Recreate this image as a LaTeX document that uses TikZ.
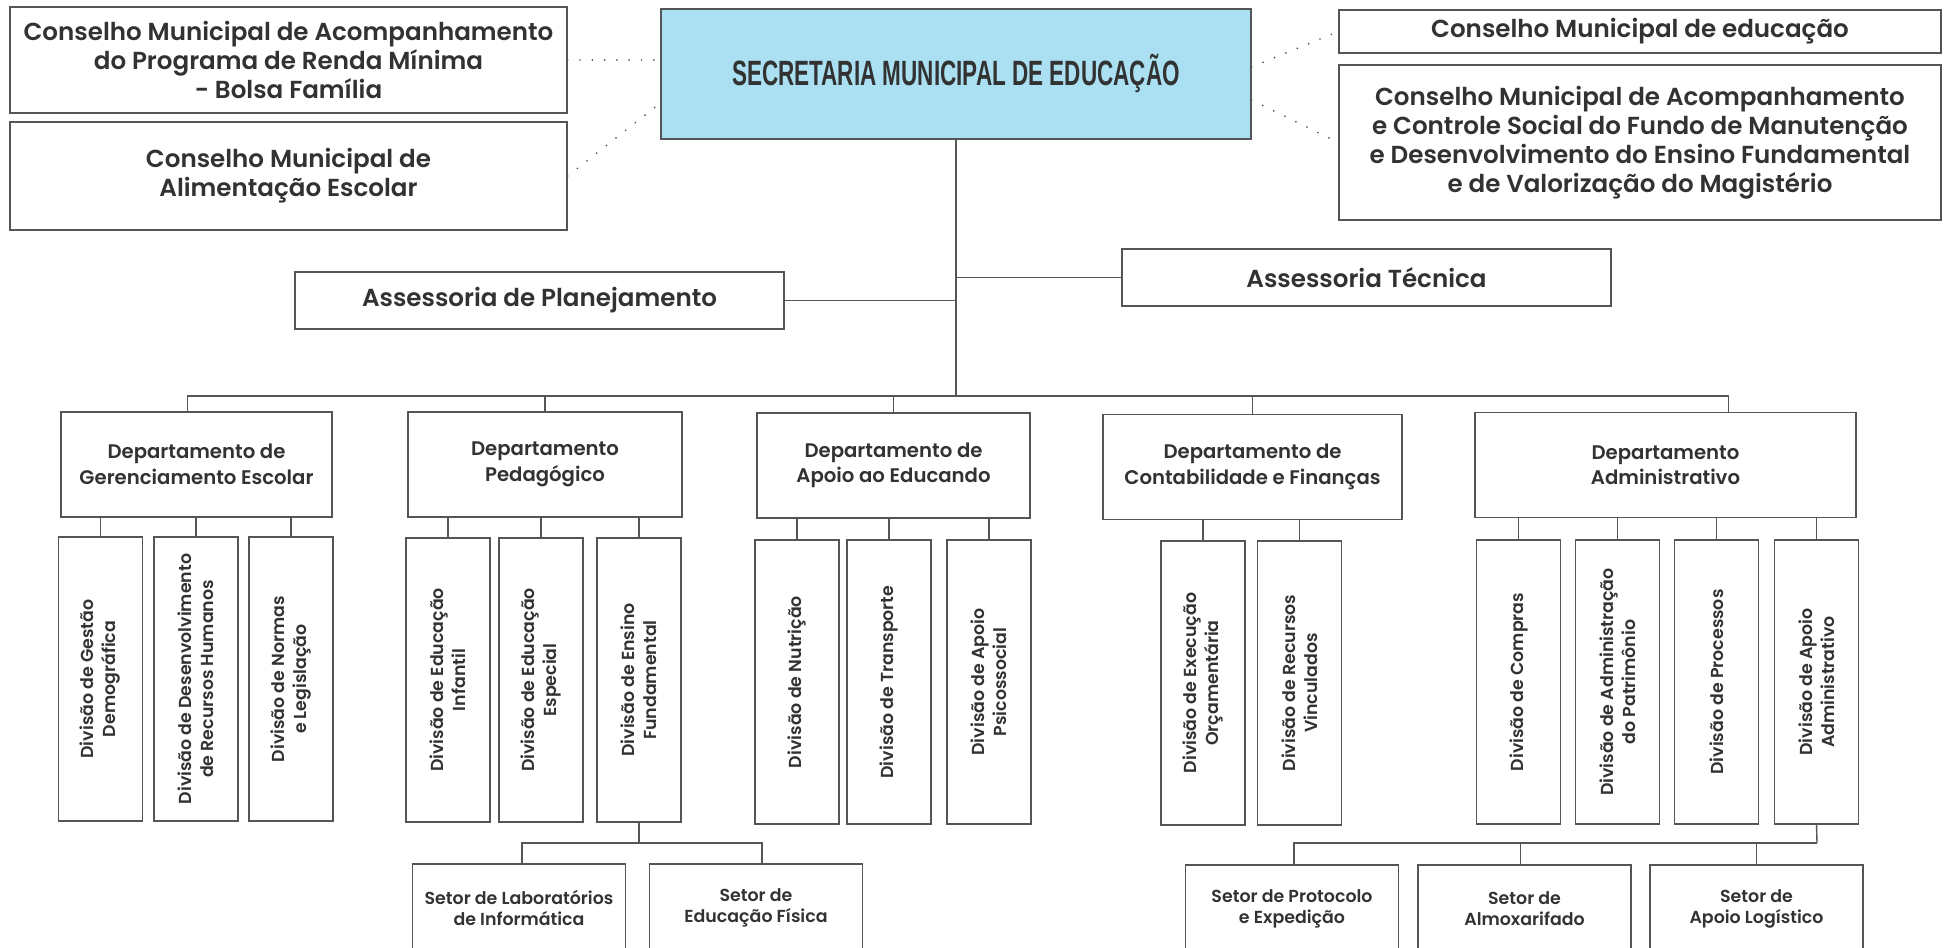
\documentclass[tikz,border=0pt]{standalone}
\usepackage{fontspec}
\setmainfont{Poppins}[UprightFont=* SemiBold]
\newfontfamily\titlefont[FakeStretch=0.64]{Liberation Sans}
\usetikzlibrary{positioning}

\definecolor{linegray}{RGB}{85,85,85}
\definecolor{textgray}{RGB}{50,50,50}
\definecolor{secblue}{RGB}{170,224,242}

\newdimen\pxu \pxu=0.02cm

\begin{document}
\begin{tikzpicture}[
    x = 0.02cm, y = -0.02cm, % one unit = one pixel of the chart
    line/.style={draw=linegray, line width=0.8pt},
    dots/.style={draw=linegray, line width=1.1pt, line cap=round, dash pattern=on 0pt off 7pt},
    orgbox/.style={draw=linegray, line width=0.8pt, align=center, text=textgray, inner sep=2pt},
    conselho/.style={orgbox, font=\fontsize{14}{16.5}\selectfont},
    assessoria/.style={orgbox, font=\fontsize{14}{16.5}\selectfont, minimum width=489\pxu, minimum height=57\pxu},
    dept/.style={orgbox, font=\fontsize{11.2}{14.5}\selectfont, minimum height=105\pxu},
    divisao/.style={orgbox, rotate=90, font=\fontsize{9.9}{12.5}\selectfont, minimum width=284\pxu, minimum height=84\pxu},
    setor/.style={orgbox, font=\fontsize{9.9}{12}\selectfont, minimum width=213\pxu, minimum height=88\pxu}
  ]
  \useasboundingbox (0,0) rectangle (1944,947);
  \clip (0,0) rectangle (1944,947);

  % Top
  \node[orgbox, fill=secblue, minimum width=590\pxu, minimum height=130\pxu,
        font=\titlefont\bfseries\fontsize{20}{22}\selectfont] (sec) at (956,74) {SECRETARIA MUNICIPAL DE EDUCAÇÃO};
  \node[conselho, minimum width=557\pxu, minimum height=106\pxu] (bolsa) at (288.5,60)
    {Conselho Municipal de Acompanhamento\\do Programa de Renda Mínima\\- Bolsa Família};
  \node[conselho, minimum width=557\pxu, minimum height=108\pxu] (alim) at (288.5,176)
    {Conselho Municipal de\\Alimentação Escolar};
  \node[conselho, minimum width=602\pxu, minimum height=43\pxu] (educ) at (1640,31.5)
    {Conselho Municipal de educação};
  \node[conselho, minimum width=602\pxu, minimum height=155\pxu] (fundef) at (1640,142.5)
    {Conselho Municipal de Acompanhamento\\e Controle Social do Fundo de Manutenção\\e Desenvolvimento do Ensino Fundamental\\e de Valorização do Magistério};

  % Assessorias
  \node[assessoria] (plan) at (539.5,300.5) {Assessoria de Planejamento};
  \node[assessoria] (tec) at (1366.5,277.5) {Assessoria Técnica};

  % Departamentos
  \coordinate (bus) at (956,396);
  \node[dept, minimum width=271\pxu] (d1) at (196.5,464.5) {Departamento de\\Gerenciamento Escolar};
  \node[dept, minimum width=274\pxu] (d2) at (545,464.5) {Departamento\\Pedagógico};
  \node[dept, minimum width=273\pxu] (d3) at (893.5,465.5) {Departamento de\\Apoio ao Educando};
  \node[dept, minimum width=299\pxu] (d4) at (1252.5,467) {Departamento de\\Contabilidade e Finanças};
  \node[dept, minimum width=381\pxu] (d5) at (1665.5,465) {Departamento\\Administrativo};

  % Divisoes
  \node[divisao] (gest) at (100.5,679) {Divisão de Gestão\\Demográfica};
  \node[divisao] (rh) at (196,679) {Divisão de Desenvolvimento\\de Recursos Humanos};
  \node[divisao] (norm) at (291,679) {Divisão de Normas\\e Legislação};
  \node[divisao] (infantil) at (448,680) {Divisão de Educação\\Infantil};
  \node[divisao] (especial) at (541,680) {Divisão de Educação\\Especial};
  \node[divisao] (fund) at (639,680) {Divisão de Ensino\\Fundamental};
  \node[divisao] (nutri) at (797,682) {Divisão de Nutrição};
  \node[divisao] (transp) at (889,682) {Divisão de Transporte};
  \node[divisao] (psico) at (989,682) {Divisão de Apoio\\Psicossocial};
  \node[divisao] (exec) at (1203,683) {Divisão de Execução\\Orçamentária};
  \node[divisao] (vinc) at (1299.5,683) {Divisão de Recursos\\Vinculados};
  \node[divisao] (compras) at (1518.5,682) {Divisão de Compras};
  \node[divisao] (patrim) at (1617.5,682) {Divisão de Administração\\do Patrimônio};
  \node[divisao] (proc) at (1716.5,682) {Divisão de Processos};
  \node[divisao] (apoioadm) at (1816.5,682) {Divisão de Apoio\\Administrativo};

  % Setores
  \coordinate (fbus) at (639,843);
  \coordinate (abus) at (1817,843);
  \node[setor] (lab) at (519,908) {Setor de Laboratórios\\de Informática};
  \node[setor] (edfis) at (756,908) {Setor de\\Educação Física};
  \node[setor] (prot) at (1292,909) {Setor de Protocolo\\e Expedição};
  \node[setor] (almox) at (1524.5,909) {Setor de\\Almoxarifado};
  \node[setor] (logis) at (1756.5,909) {Setor de\\Apoio Logístico};

  % Edges
  \draw[dots] (bolsa.east) -- (bolsa.east -| sec.west);
  \draw[dots] (alim.east) -- ([yshift=-29\pxu]sec.west);
  \draw[dots] ([yshift=7\pxu]sec.east) -- (educ.west);
  \draw[dots] ([yshift=-26\pxu]sec.east) -- (fundef.west);

  \draw[line] (sec.south) -- (bus);
  \draw[line] (plan.east) -- (plan.east -| sec.south);
  \draw[line] (tec.west) -- (tec.west -| sec.south);
  \draw[line] ([xshift=-9\pxu]d1.north) |- ([xshift=63\pxu]d5.north |- bus) -- ([xshift=63\pxu]d5.north);
  \path[line] (d2.north) edge (d2.north |- bus)
    (d3.north) edge (d3.north |- bus)
    (d4.north) edge (d4.north |- bus);

  \path[line] (gest.east) edge (gest.east |- d1.south)
    (rh.east) edge (rh.east |- d1.south)
    (norm.east) edge (norm.east |- d1.south)
    (infantil.east) edge (infantil.east |- d2.south)
    (especial.east) edge (especial.east |- d2.south)
    (fund.east) edge (fund.east |- d2.south)
    (nutri.east) edge (nutri.east |- d3.south)
    (transp.east) edge (transp.east |- d3.south)
    (psico.east) edge (psico.east |- d3.south)
    (exec.east) edge (exec.east |- d4.south)
    (vinc.east) edge (vinc.east |- d4.south)
    (compras.east) edge (compras.east |- d5.south)
    (patrim.east) edge (patrim.east |- d5.south)
    (proc.east) edge (proc.east |- d5.south)
    (apoioadm.east) edge (apoioadm.east |- d5.south);

  \draw[line] (fund.west) -- (fbus);
  \draw[line] ([xshift=3\pxu]lab.north) |- ([xshift=6\pxu]edfis.north |- fbus) -- ([xshift=6\pxu]edfis.north);
  \draw[line] (apoioadm.west) -- (abus);
  \draw[line] ([xshift=2\pxu]prot.north) |- (abus);
  \path[line] ([xshift=-4\pxu]almox.north) edge ([xshift=-4\pxu]almox.north |- abus)
    (logis.north) edge (logis.north |- abus);
\end{tikzpicture}
\end{document}
